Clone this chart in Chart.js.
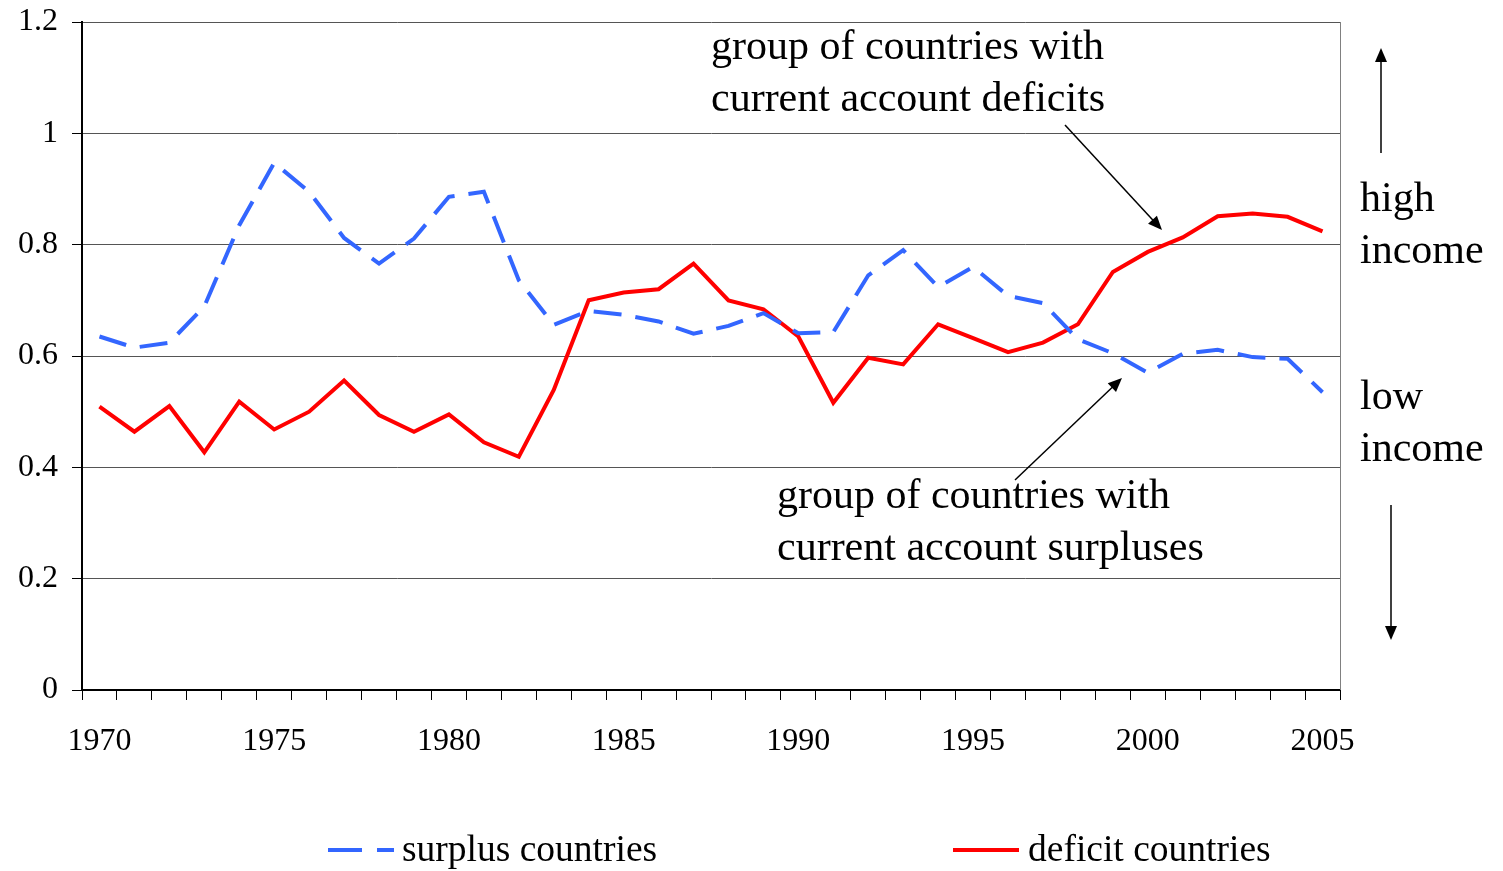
<!DOCTYPE html>
<html>
<head>
<meta charset="utf-8">
<script src="https://cdn.jsdelivr.net/npm/chart.js@4.4.1/dist/chart.umd.min.js"></script>
<style>
  body { margin: 0; background: #fff; }
  #wrap { width: 1503px; height: 871px; }
</style>
</head>
<body>
<div id="wrap"><canvas id="incomeChart"></canvas></div>
<script>
const years = [];
for (let y = 1970; y <= 2005; y++) years.push(y);

const surplus = [0.635, 0.615, 0.624, 0.689, 0.835, 0.947, 0.895, 0.812, 0.766, 0.811,
  0.886, 0.895, 0.736, 0.656, 0.681, 0.674, 0.662, 0.640, 0.654, 0.677,
  0.641, 0.643, 0.745, 0.790, 0.724, 0.760, 0.708, 0.695, 0.630, 0.605,
  0.570, 0.604, 0.611, 0.598, 0.595, 0.535];

const deficit = [0.509, 0.464, 0.510, 0.427, 0.518, 0.468, 0.500, 0.556, 0.494, 0.464,
  0.495, 0.445, 0.419, 0.539, 0.700, 0.714, 0.720, 0.766, 0.700, 0.684,
  0.635, 0.516, 0.597, 0.585, 0.657, 0.632, 0.607, 0.624, 0.657, 0.751,
  0.787, 0.813, 0.851, 0.856, 0.850, 0.824];

const yTicks = [0, 0.2, 0.4, 0.6, 0.8, 1, 1.2];

Chart.defaults.font.family = "'Liberation Serif', 'Times New Roman', serif";
Chart.defaults.color = '#000';

function arrow(ctx, x1, y1, x2, y2) {
  const a = Math.atan2(y2 - y1, x2 - x1);
  const len = 14, w = 6;
  ctx.beginPath();
  ctx.moveTo(x1, y1);
  ctx.lineTo(x2 - Math.cos(a) * len * 0.8, y2 - Math.sin(a) * len * 0.8);
  ctx.stroke();
  ctx.beginPath();
  ctx.moveTo(x2, y2);
  ctx.lineTo(x2 - Math.cos(a) * len + Math.sin(a) * w, y2 - Math.sin(a) * len - Math.cos(a) * w);
  ctx.lineTo(x2 - Math.cos(a) * len - Math.sin(a) * w, y2 - Math.sin(a) * len + Math.cos(a) * w);
  ctx.closePath();
  ctx.fill();
}

// notes, arrows, right border and legend
const extras = {
  id: 'extras',
  afterDraw(chart) {
    const ctx = chart.ctx;
    const area = chart.chartArea;
    ctx.save();

    ctx.strokeStyle = '#808080';
    ctx.lineWidth = 1;
    ctx.beginPath();
    ctx.moveTo(area.right + 0.5, area.top);
    ctx.lineTo(area.right + 0.5, area.bottom);
    ctx.stroke();

    ctx.fillStyle = '#000';
    ctx.strokeStyle = '#000';
    ctx.textBaseline = 'middle';
    ctx.textAlign = 'left';
    ctx.font = "42px 'Liberation Serif'";
    ctx.fillText('group of countries with', 711, 48);
    ctx.fillText('current account deficits', 711, 100);
    ctx.fillText('group of countries with', 777, 497);
    ctx.fillText('current account surpluses', 777, 549);
    ctx.fillText('high', 1360, 200);
    ctx.fillText('income', 1360, 252);
    ctx.fillText('low', 1360, 398);
    ctx.fillText('income', 1360, 450);

    ctx.lineWidth = 1.5;
    arrow(ctx, 1065, 125, 1162, 230);
    arrow(ctx, 1015, 480, 1122, 378);
    arrow(ctx, 1381, 153, 1381, 48);
    arrow(ctx, 1391, 505, 1391, 640);

    // legend
    const ds = chart.data.datasets;
    const items = [{x: 328, t: 402}, {x: 953, t: 1028}];
    ctx.font = "37.5px 'Liberation Serif'";
    items.forEach((it, i) => {
      ctx.strokeStyle = ds[i].borderColor;
      ctx.lineWidth = 4;
      ctx.setLineDash(ds[i].borderDash ? [34, 15] : []);
      ctx.beginPath();
      ctx.moveTo(it.x, 850);
      ctx.lineTo(it.x + 66, 850);
      ctx.stroke();
      ctx.setLineDash([]);
      ctx.fillStyle = '#000';
      ctx.fillText(ds[i].label, it.t, 851);
    });
    ctx.restore();
  }
};

new Chart(document.getElementById('incomeChart'), {
  type: 'line',
  data: {
    labels: years,
    datasets: [{
      label: 'surplus countries',
      data: surplus,
      borderColor: '#3366ff',
      borderDash: [28, 14],
      borderWidth: 4,
      pointRadius: 0,
      tension: 0
    }, {
      label: 'deficit countries',
      data: deficit,
      borderColor: '#ff0000',
      borderWidth: 4,
      pointRadius: 0,
      tension: 0
    }]
  },
  options: {
    responsive: true,
    maintainAspectRatio: false,
    animation: false,
    layout: { padding: { top: 22, right: 163, left: 0, bottom: 0 } },
    plugins: { legend: { display: false }, tooltip: { enabled: false } },
    scales: {
      x: {
        offset: true,
        grid: { offset: true, drawOnChartArea: false, drawTicks: true, tickLength: 10, color: '#000' },
        border: { color: '#000', width: 2 },
        ticks: {
          autoSkip: false,
          maxRotation: 0,
          padding: 22,
          font: { size: 32 },
          callback: function (v, i) { return years[i] % 5 === 0 ? String(years[i]) : ''; }
        },
        afterFit: function (s) { s.height = 181; s.paddingLeft = 0; s.paddingRight = 0; }
      },
      y: {
        min: 0,
        max: 1.2,
        afterBuildTicks: function (s) { s.ticks = yTicks.map(v => ({ value: v })); },
        grid: { color: '#555', tickLength: 10, tickColor: '#000' },
        border: { color: '#000', width: 2 },
        ticks: { padding: 14, font: { size: 32 }, callback: function (v) { return String(v); } },
        afterFit: function (s) { s.width = 82; s.paddingTop = 0; s.paddingBottom = 0; }
      }
    }
  },
  plugins: [extras]
});
</script>
</body>
</html>
